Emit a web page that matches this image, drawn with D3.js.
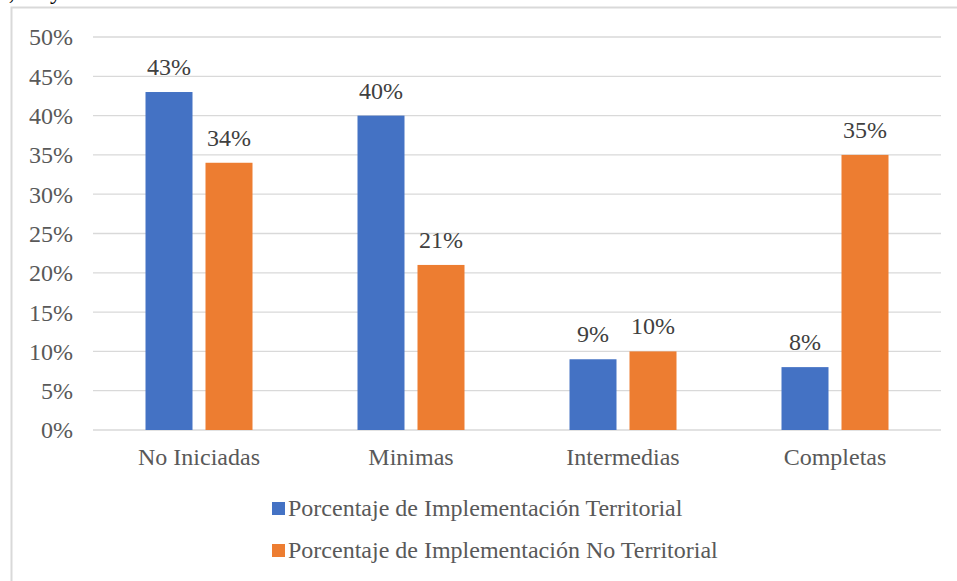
<!DOCTYPE html>
<html><head><meta charset="utf-8">
<script src="https://cdn.jsdelivr.net/npm/d3@7"></script>
<style>body{margin:0;background:#fff;} svg{display:block;}</style>
</head><body>
<script>
const categories = ["No Iniciadas", "Minimas", "Intermedias", "Completas"];
const seriesNames = ["Porcentaje de Implementación Territorial", "Porcentaje de Implementación No Territorial"];
const territorial = [43, 40, 9, 8];
const noTerritorial = [34, 21, 10, 35];
const yTicks = [0, 5, 10, 15, 20, 25, 30, 35, 40, 45, 50];
const colors = ["#4472C4", "#ED7D31"];

(function () {
const W = 957, H = 581;
const svg = d3.select("body").append("svg").attr("width", W).attr("height", H);
const font = "'Liberation Serif','Times New Roman',serif";
const txt = "#595959";
const fs = 24;

// clipped caption at top (only descenders visible, as in the reference)
svg.append("text").attr("x", -2).attr("y", -1).attr("font-family", font).attr("font-size", fs)
  .attr("fill", "#000").text("a, mayo 2019");

// chart border
svg.append("rect").attr("x", 11.5).attr("y", 7.5).attr("width", W + 10).attr("height", H + 10)
  .attr("fill", "#fff").attr("stroke", "#d9d9d9").attr("stroke-width", 2);

const pLeft = 93, pRight = 941, pTop = 37, pBottom = 430;
const y = d3.scaleLinear().domain([0, 50]).range([pBottom, pTop]);
const x0 = d3.scaleBand().domain(categories).range([pLeft, pRight]).paddingInner(0).paddingOuter(0);
const x1 = d3.scaleBand().domain([0, 1]).range([0, x0.bandwidth()]).paddingInner(13/60).paddingOuter(0.875);

// grid
svg.append("g").selectAll("line").data(yTicks).join("line")
  .attr("x1", pLeft).attr("x2", pRight).attr("y1", d => y(d)).attr("y2", d => y(d))
  .attr("stroke", "#d9d9d9").attr("stroke-width", 1.3);

// y axis labels
const yAxis = d3.axisLeft(y).tickValues(yTicks).tickFormat(d => d + "%").tickSize(0).tickPadding(0);
const ya = svg.append("g").attr("transform", `translate(${73},0)`).call(yAxis);
ya.select(".domain").remove();
ya.selectAll("text").attr("font-family", font).attr("font-size", fs).attr("fill", txt).attr("dy", "0.33em");

// x axis labels
const xAxis = d3.axisBottom(x0).tickSize(0).tickPadding(0);
const xa = svg.append("g").attr("transform", `translate(0,${pBottom})`).call(xAxis);
xa.select(".domain").remove();
xa.selectAll("text").attr("font-family", font).attr("font-size", fs).attr("fill", txt)
  .attr("y", 35).attr("dy", 0);

const data = categories.map((c, i) => ({c, vals: [territorial[i], noTerritorial[i]]}));
const groups = svg.append("g").selectAll("g").data(data).join("g")
  .attr("transform", d => `translate(${x0(d.c)},0)`);
groups.selectAll("rect").data(d => d.vals.map((v, s) => ({v, s}))).join("rect")
  .attr("x", d => x1(d.s)).attr("width", x1.bandwidth())
  .attr("y", d => y(d.v)).attr("height", d => y(0) - y(d.v))
  .attr("fill", d => colors[d.s]);
groups.selectAll("text").data(d => d.vals.map((v, s) => ({v, s}))).join("text")
  .attr("x", d => x1(d.s) + x1.bandwidth() / 2).attr("y", d => y(d.v) - 17)
  .attr("text-anchor", "middle").attr("font-family", font).attr("font-size", fs).attr("fill", "#404040")
  .text(d => d.v + "%");

// legend
const leg = svg.append("g").selectAll("g").data(seriesNames).join("g")
  .attr("transform", (d, i) => `translate(272,${502 + i * 42})`);
leg.append("rect").attr("width", 13).attr("height", 13).attr("fill", (d, i) => colors[i]);
leg.append("text").attr("x", 16).attr("y", 13.5).attr("font-family", font).attr("font-size", fs)
  .attr("fill", txt).text(d => d);
})();
</script>
</body></html>
